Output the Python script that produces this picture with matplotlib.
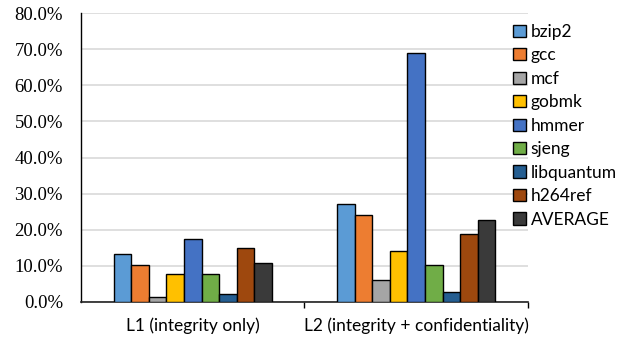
import numpy as np
import matplotlib
matplotlib.use("Agg")
import matplotlib.pyplot as plt
from matplotlib.ticker import FuncFormatter, FixedLocator

categories = ["L1 (integrity only)", "L2 (integrity + confidentiality)"]
benchmarks = ["bzip2", "gcc", "mcf", "gobmk", "hmmer", "sjeng", "libquantum", "h264ref", "AVERAGE"]
overhead_pct = {
    "bzip2":      [13.2, 27.0],
    "gcc":        [10.2, 24.0],
    "mcf":        [1.5, 6.0],
    "gobmk":      [7.7, 14.2],
    "hmmer":      [17.5, 68.9],
    "sjeng":      [7.7, 10.2],
    "libquantum": [2.2, 2.7],
    "h264ref":    [15.0, 18.8],
    "AVERAGE":    [10.7, 22.7],
}
colors = ["#5B9BD5", "#ED7D31", "#A5A5A5", "#FFC000", "#4472C4",
          "#70AD47", "#255E91", "#9E480E", "#3A3A3A"]

fig = plt.figure(figsize=(6.23, 3.37), dpi=100)
ax = fig.add_axes([0.130, 0.104, 0.7175, 0.857])

x = np.arange(len(categories))
group_w = 0.707
bw = group_w / len(benchmarks)
for i, (name, c) in enumerate(zip(benchmarks, colors)):
    offs = -group_w / 2 + bw * (i + 0.5)
    ax.bar(x + offs, overhead_pct[name], width=bw, color=c, edgecolor="black",
           linewidth=1.0, label=name, zorder=3)

ax.set_xlim(-0.5, 1.5)
ax.set_ylim(0, 80)
ax.set_yticks(np.arange(0, 81, 10))
ax.yaxis.set_major_formatter(FuncFormatter(lambda v, p: f"{v:.1f}%"))
ax.grid(axis="y", color="#D9D9D9", linewidth=1.2, zorder=0)
ax.tick_params(axis="y", length=0, pad=13)
for lab in ax.get_yticklabels():
    lab.set_fontfamily("Liberation Serif")
    lab.set_fontsize(13.5)

ax.set_xticks(x)
ax.set_xticklabels(categories, fontfamily="Lato", fontsize=12.5)
ax.tick_params(axis="x", which="major", length=0, pad=11)
ax.xaxis.set_minor_locator(FixedLocator([0.5, 1.5]))
ax.tick_params(axis="x", which="minor", length=4, width=1, color="black", direction="out")

for s in ["top", "right"]:
    ax.spines[s].set_visible(False)
ax.spines["left"].set_color("black")
ax.spines["left"].set_linewidth(1.0)
ax.spines["bottom"].set_color("#222222")
ax.spines["bottom"].set_linewidth(1.2)

leg = fig.legend(loc="upper left", bbox_to_anchor=(0.813, 0.95), frameon=False,
                 prop={"family": "Lato", "size": 12.5}, handlelength=0.7,
                 handleheight=0.7, handletextpad=0.3, labelspacing=0.43,
                 borderaxespad=0)

fig.savefig("out.png", dpi=100, facecolor="white")
